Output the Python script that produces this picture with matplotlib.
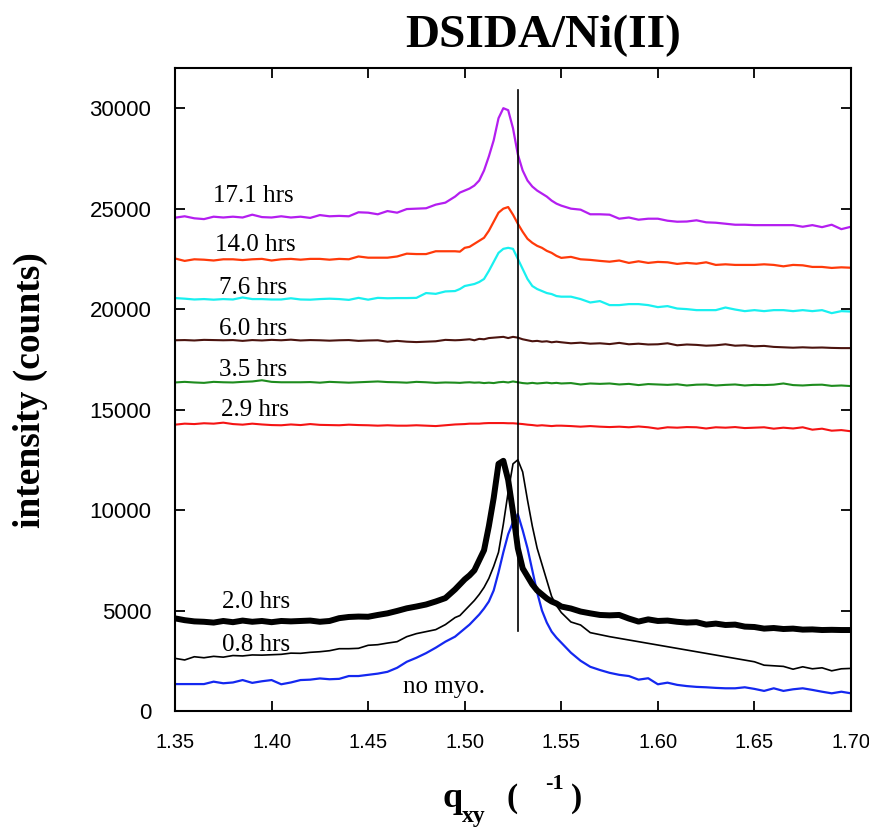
import numpy as np
import matplotlib
matplotlib.use("Agg")
import matplotlib.pyplot as plt

# ---------------- data ----------------
# common q grid (A: coarse, B: fine around the peak, C: coarse)
q_A = np.round(np.arange(1.350, 1.4951, 0.005), 4)
q_B = np.round(np.arange(1.4975, 1.54751, 0.0025), 4)
q_C = np.round(np.arange(1.550, 1.7001, 0.005), 4)
q = np.concatenate([q_A, q_B, q_C])

i_171 = [24550, 24620, 24520, 24480, 24600, 24560, 24600, 24560, 24700, 24580,
         24560, 24620, 24560, 24600, 24540, 24680, 24620, 24640, 24620, 24820,
         24800, 24720, 24880, 24800, 24980, 25000, 25020, 25200, 25300, 25600,
         25800, 25900, 26000, 26150, 26400, 26900, 27600, 28400, 29500, 30000,
         29900, 29000, 27700, 26900, 26400, 26100, 25900, 25750, 25600, 25400, 25250,
         25150, 25000, 24950, 24720, 24720, 24700, 24500, 24560, 24450, 24500,
         24500, 24400, 24350, 24360, 24420, 24320, 24300, 24250, 24200, 24200,
         24180, 24180, 24180, 24180, 24180, 24100, 24180, 24080, 24200, 23980, 24100]

i_140 = [22520, 22400, 22480, 22460, 22420, 22480, 22480, 22440, 22480, 22500,
         22420, 22480, 22500, 22460, 22500, 22500, 22460, 22500, 22480, 22620,
         22560, 22560, 22560, 22620, 22760, 22740, 22740, 22880, 22880, 22880,
         22860, 23050, 23100, 23250, 23400, 23550, 23900, 24350, 24800, 25000,
         25080, 24700, 24250, 23850, 23500, 23300, 23150, 23050, 22900, 22800, 22650,
         22550, 22600, 22480, 22450, 22400, 22360, 22420, 22300, 22380, 22300,
         22350, 22330, 22250, 22300, 22260, 22330, 22200, 22230, 22200, 22200,
         22200, 22230, 22200, 22130, 22200, 22180, 22100, 22100, 22050, 22080, 22060]

i_076 = [20550, 20520, 20480, 20500, 20470, 20500, 20480, 20580, 20500, 20500,
         20480, 20480, 20540, 20480, 20470, 20500, 20520, 20500, 20460, 20560,
         20470, 20560, 20540, 20550, 20550, 20560, 20800, 20760, 20880, 20900,
         21000, 21150, 21200, 21250, 21350, 21500, 21900, 22350, 22800, 23000,
         23050, 23000, 22500, 22000, 21500, 21150, 21000, 20900, 20800, 20750, 20650,
         20620, 20620, 20500, 20330, 20400, 20200, 20200, 20250, 20250, 20200,
         20100, 20150, 20030, 20000, 19950, 19950, 19950, 20080, 19980, 19900,
         19950, 19900, 19950, 19950, 19900, 19950, 19900, 19950, 19800, 19900, 19880]

i_060 = [18450, 18460, 18440, 18470, 18460, 18450, 18460, 18420, 18460, 18440,
         18470, 18450, 18480, 18440, 18460, 18450, 18430, 18450, 18460, 18420,
         18440, 18450, 18380, 18420, 18380, 18360, 18380, 18400, 18470, 18450,
         18460, 18480, 18500, 18450, 18520, 18500, 18560, 18580, 18600, 18620,
         18560, 18620, 18580, 18500, 18450, 18400, 18420, 18380, 18400, 18350, 18380,
         18350, 18300, 18330, 18280, 18300, 18260, 18320, 18250, 18280, 18240,
         18250, 18300, 18200, 18240, 18220, 18180, 18200, 18250, 18180, 18200,
         18150, 18170, 18120, 18100, 18080, 18100, 18080, 18090, 18070, 18060, 18060]

i_035 = [16350, 16380, 16350, 16330, 16380, 16360, 16350, 16380, 16400, 16460,
         16380, 16360, 16360, 16360, 16370, 16340, 16380, 16360, 16340, 16360,
         16380, 16400, 16370, 16360, 16340, 16380, 16360, 16330, 16350, 16340,
         16330, 16350, 16360, 16340, 16350, 16320, 16340, 16320, 16360, 16380,
         16350, 16400, 16360, 16320, 16300, 16330, 16300, 16320, 16340, 16310, 16330,
         16300, 16320, 16250, 16300, 16280, 16300, 16250, 16280, 16220, 16270,
         16250, 16230, 16260, 16200, 16240, 16250, 16200, 16230, 16250, 16200,
         16230, 16220, 16240, 16300, 16220, 16200, 16230, 16240, 16180, 16200, 16170]

i_029 = [14250, 14300, 14280, 14320, 14300, 14350, 14280, 14250, 14300, 14260,
         14230, 14220, 14260, 14230, 14280, 14240, 14230, 14220, 14250, 14230,
         14220, 14200, 14220, 14200, 14200, 14220, 14200, 14180, 14220, 14260,
         14270, 14280, 14300, 14300, 14300, 14320, 14330, 14330, 14330, 14330,
         14320, 14320, 14300, 14280, 14250, 14230, 14200, 14220, 14200, 14180, 14200,
         14200, 14180, 14150, 14180, 14150, 14130, 14150, 14120, 14160, 14120,
         14050, 14120, 14100, 14130, 14120, 14060, 14120, 14100, 14130, 14080,
         14100, 14120, 14050, 14100, 14060, 14120, 14000, 14050, 13950, 13980, 13920]

i_020 = [4610, 4520, 4460, 4440, 4400, 4480, 4420, 4500, 4440, 4480,
         4420, 4480, 4460, 4480, 4500, 4440, 4480, 4620, 4680, 4700,
         4690, 4780, 4860, 4980, 5110, 5200, 5300, 5450, 5620, 6050,
         6300, 6550, 6750, 7000, 7500, 8000, 9200, 10600, 12300, 12450,
         11500, 9900, 8100, 7100, 6700, 6300, 6000, 5800, 5600, 5450, 5350,
         5200, 5100, 4950, 4860, 4780, 4760, 4780, 4600, 4450, 4560,
         4480, 4500, 4440, 4400, 4420, 4300, 4350, 4280, 4300, 4200,
         4180, 4100, 4130, 4080, 4100, 4050, 4060, 4030, 4040, 4030, 4030]

# 0.8 hrs has a gap in the data between 1.575 and 1.650
q_008 = np.concatenate([q_A, q_B,
                        [1.550, 1.555, 1.560, 1.565, 1.570, 1.575,
                         1.650, 1.655, 1.660, 1.665, 1.670, 1.675, 1.680, 1.685, 1.690, 1.695, 1.700]])
i_008 = [2620, 2540, 2700, 2650, 2720, 2680, 2760, 2740, 2790, 2780,
         2800, 2820, 2880, 2870, 2920, 2950, 3000, 3100, 3100, 3120,
         3270, 3300, 3380, 3450, 3700, 3850, 3950, 4050, 4300, 4650,
         4750, 5000, 5250, 5500, 5800, 6150, 6600, 7200, 7900, 9300,
         10900, 12300, 12500, 11900, 10500, 9200, 8100, 7300, 6500, 5700, 5250,
         4900, 4430, 4280, 3900, 3800, 3700,
         2450, 2280, 2250, 2220, 2080, 2200, 2100, 2150, 2000, 2100, 2120]

i_nomyo = [1340, 1340, 1340, 1340, 1460, 1380, 1420, 1540, 1400, 1480,
           1540, 1330, 1420, 1540, 1560, 1620, 1580, 1600, 1740, 1740,
           1800, 1860, 1950, 2150, 2450, 2650, 2880, 3150, 3450, 3700,
           3900, 4100, 4300, 4550, 4800, 5100, 5450, 6000, 6900, 7900,
           8800, 9400, 9800, 9000, 8100, 7000, 5900, 5000, 4400, 3950, 3650,
           3400, 2900, 2500, 2200, 2040, 1900, 1800, 1740, 1560, 1630,
           1330, 1410, 1300, 1240, 1200, 1180, 1150, 1130, 1130, 1180,
           1100, 1000, 1130, 1000, 1080, 1130, 1050, 960, 880, 960, 880]

labels = ["17.1 hrs", "14.0 hrs", "7.6 hrs", "6.0 hrs", "3.5 hrs", "2.9 hrs",
          "2.0 hrs", "0.8 hrs", "no myo."]
label_q = [1.3695, 1.3705, 1.373, 1.373, 1.373, 1.374, 1.3745, 1.3745, 1.468]
label_y = [25650, 23180, 21040, 19000, 16970, 14980, 5420, 3280, 1190]

ref_q = 1.5275
ref_lo, ref_hi = 4000, 30900

x_ticks = [1.35, 1.40, 1.45, 1.50, 1.55, 1.60, 1.65, 1.70]
y_ticks = [0, 5000, 10000, 15000, 20000, 25000, 30000]

# ---------------- plot ----------------
fig = plt.figure(figsize=(8.7, 8.3), dpi=100)
ax = fig.add_axes([175/870, 1-711/830, (851-175)/870, (711-68)/830])

serif = "Liberation Serif"
sans = "Liberation Sans"

ax.plot(q, i_171, color="#b41ef0", lw=1.6)
ax.plot(q, i_140, color="#ff3a0a", lw=1.6)
ax.plot(q, i_076, color="#19f0f0", lw=1.6)
ax.plot(q, i_060, color="#4b140f", lw=1.5)
ax.plot(q, i_035, color="#1e8c1e", lw=1.5)
ax.plot(q, i_029, color="#f51414", lw=1.5)
ax.plot(q, i_nomyo, color="#1428f0", lw=1.6)
ax.plot(q_008, i_008, color="black", lw=1.2)
ax.plot(q, i_020, color="black", lw=4.3, solid_joinstyle="round")
ax.plot([ref_q, ref_q], [ref_lo, ref_hi], color="black", lw=1.2)

for t, xq, yv in zip(labels, label_q, label_y):
    ax.text(xq, yv, t, fontsize=18, family=serif, ha="left", va="center")

ax.set_xlim(1.35, 1.70)
ax.set_ylim(0, 32000)
ax.set_xticks(x_ticks)
ax.set_xticklabels([f"{v:.2f}" for v in x_ticks])
ax.set_yticks(y_ticks)
ax.set_yticklabels([str(v) for v in y_ticks])
ax.tick_params(direction="in", length=7, width=1.3, top=True, right=True)
ax.tick_params(axis="x", pad=16, labelsize=14.5)
ax.tick_params(axis="y", pad=17, labelsize=16)
for lab in ax.get_xticklabels() + ax.get_yticklabels():
    lab.set_family(sans)
for s in ax.spines.values():
    s.set_linewidth(1.5)

fig.text(543/870, 1-36/830, "DSIDA/Ni(II)", fontsize=34, fontweight="bold",
         family=serif, ha="center", va="center")
fig.text(30/870, 1-390/830, "intensity (counts)", fontsize=27, fontweight="bold",
         family=serif, ha="center", va="center", rotation=90)

# x-axis label pieces
fig.text(443/870, 1-807/830, "q", fontsize=26, fontweight="bold", family=serif,
         ha="left", va="baseline")
fig.text(462/870, 1-822/830, "xy", fontsize=17, fontweight="bold", family=serif,
         ha="left", va="baseline")
fig.text(507/870, 1-807/830, "(", fontsize=24, fontweight="bold", family=serif,
         ha="left", va="baseline")
fig.text(545/870, 1-789/830, "-1", fontsize=16, fontweight="bold", family=serif,
         ha="left", va="baseline")
fig.text(571/870, 1-807/830, ")", fontsize=24, fontweight="bold", family=serif,
         ha="left", va="baseline")

fig.savefig("out.png", dpi=100)
